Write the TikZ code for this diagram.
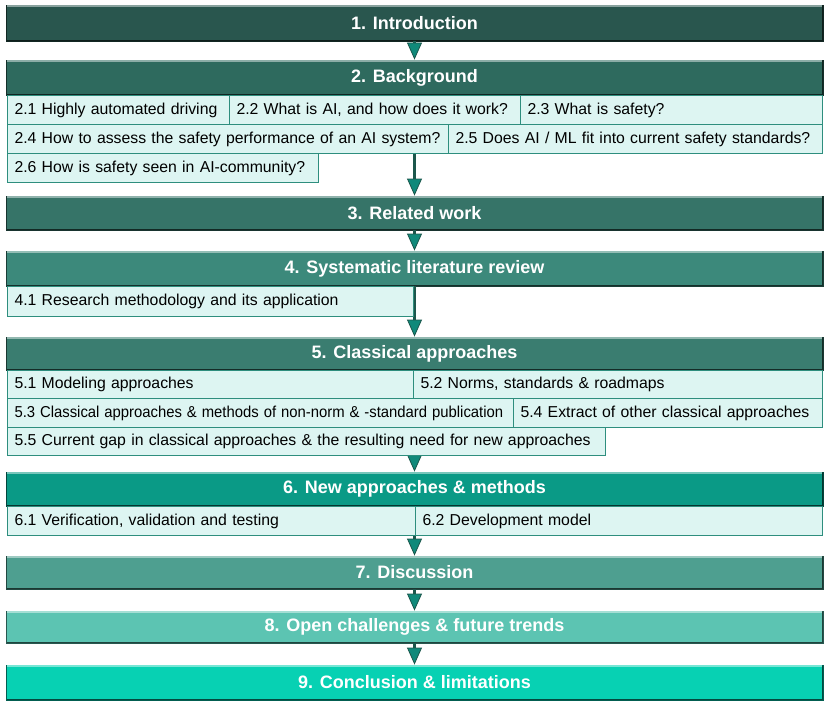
\documentclass[tikz,border=0pt]{standalone}
\usepackage{fontspec}
\usepackage{graphicx}
\setmainfont{Liberation Sans}
\usetikzlibrary{arrows.meta}
\definecolor{cA}{HTML}{29564E}
\definecolor{cB}{HTML}{2E6A5E}
\definecolor{cC}{HTML}{367468}
\definecolor{cD}{HTML}{3C897B}
\definecolor{cE}{HTML}{3A7D70}
\definecolor{cF}{HTML}{0A9A86}
\definecolor{cG}{HTML}{4E9F90}
\definecolor{cH}{HTML}{5CC4B2}
\definecolor{cI}{HTML}{07D1B3}
\definecolor{subfill}{HTML}{DDF5F2}
\definecolor{subline}{HTML}{2E8E7E}
\definecolor{arrdark}{HTML}{1C574C}
\definecolor{arrfill}{HTML}{10897A}
\tikzset{
  hdr/.style={rectangle, inner sep=0pt, minimum width=817pt, text=white,
    font=\bfseries\fontsize{18}{21}\selectfont},
  subbox/.style={rectangle, draw=subline, line width=1pt, fill=subfill, anchor=north west,
    inner xsep=7pt, inner ysep=0pt, align=left, text=black,
    text height=11.5pt, text depth=3pt,
    font=\fontsize{15.8}{18}\selectfont},
  conn/.style={draw=arrdark, line width=2.6pt,
    -{Triangle[width=15pt,length=17pt,line width=0.8pt,fill=arrfill]}},
}
\newcommand\Hdr[5]{%
  \node[hdr, fill=#4, draw=#4!45!black, line width=0.8pt, minimum height={(#3-#2)*1pt}] (#1) at (414.5,{(#2+#3)/2}) {#5};
  \draw[#4!55!white, line width=1.6pt] ([shift={(1.5pt,-1.6pt)}]#1.north west) -- ([shift={(-1.5pt,-1.6pt)}]#1.north east);
  \draw[#4!35!black, line width=1.6pt] ([shift={(1pt,1pt)}]#1.south west) -- ([shift={(-1pt,1pt)}]#1.south east) -- ([shift={(-1pt,-1pt)}]#1.north east);
}
\begin{document}
\begin{tikzpicture}[x=1pt,y=-1pt]
\useasboundingbox (0,0) rectangle (829,706);
\Hdr{h1}{5}{41}{cA}{1. Introduction}
\Hdr{h2}{60}{95}{cB}{2. Background}
\Hdr{h3}{196}{230}{cC}{3. Related work}
\Hdr{h4}{251}{286}{cD}{4. Systematic literature review}
\Hdr{h5}{337}{370}{cE}{5. Classical approaches}
\Hdr{h6}{472}{506}{cF}{6. New approaches \& methods}
\Hdr{h7}{556}{589}{cG}{7. Discussion}
\Hdr{h8}{611}{643}{cH}{8. Open challenges \& future trends}
\Hdr{h9}{665}{700}{cI}{9. Conclusion \& limitations}
\draw[conn] (h1.south) -- (h2.north);
\draw[conn] (h2.south) -- (h3.north);
\draw[conn] (h3.south) -- (h4.north);
\draw[conn] (h4.south) -- (h5.north);
\draw[conn] (h5.south) -- (h6.north);
\draw[conn] (h6.south) -- (h7.north);
\draw[conn] (h7.south) -- (h8.north);
\draw[conn] (h8.south) -- (h9.north);
\node[subbox, minimum height=29pt, text width=208pt] (s21) at (7,95) {\mbox{2.1 Highly automated driving}};
\node[subbox, minimum height=29pt, text width=277pt] (s22) at (229,95) {\mbox{2.2 What is AI, and how does it work?}};
\node[subbox, minimum height=29pt, text width=288pt] (s23) at (520,95) {\mbox{2.3 What is safety?}};
\node[subbox, minimum height=29pt, text width=427pt] (s24) at (7,124) {\mbox{2.4 How to assess the safety performance of an AI system?}};
\node[subbox, minimum height=29pt, text width=360pt] (s25) at (448,124) {\mbox{2.5 Does AI / ML fit into current safety standards?}};
\node[subbox, minimum height=29pt, text width=297pt] (s26) at (7,153) {\mbox{2.6 How is safety seen in AI-community?}};
\node[subbox, minimum height=30pt, text width=392pt] (s41) at (7,286) {\mbox{4.1 Research methodology and its application}};
\node[subbox, minimum height=28pt, text width=392pt] (s51) at (7,370) {\mbox{5.1 Modeling approaches}};
\node[subbox, minimum height=28pt, text width=395pt] (s52) at (413,370) {\mbox{5.2 Norms, standards \& roadmaps}};
\node[subbox, minimum height=29pt, text width=492pt] (s53) at (7,398) {\scalebox{0.94}[1]{5.3 Classical approaches \& methods of non-norm \& -standard publication}};
\node[subbox, minimum height=29pt, text width=295pt] (s54) at (513,398) {\mbox{5.4 Extract of other classical approaches}};
\node[subbox, minimum height=28pt, text width=584pt] (s55) at (7,427) {\mbox{5.5 Current gap in classical approaches \& the resulting need for new approaches}};
\node[subbox, minimum height=29pt, text width=394pt] (s61) at (7,506) {\mbox{6.1 Verification, validation and testing}};
\node[subbox, minimum height=29pt, text width=393pt] (s62) at (415,506) {\mbox{6.2 Development model}};
\end{tikzpicture}
\end{document}
